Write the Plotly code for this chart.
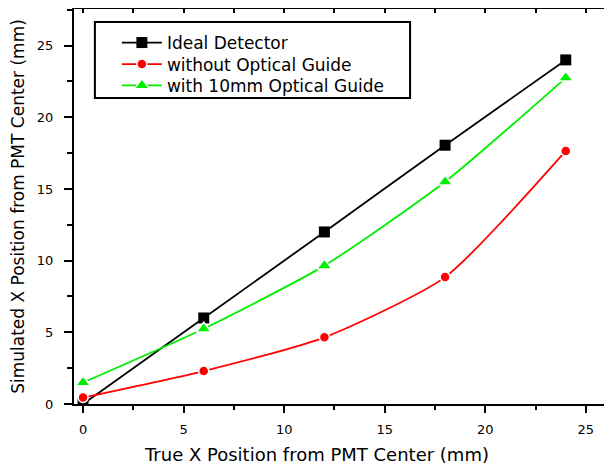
import plotly.graph_objects as go

x_vals = [0, 6, 12, 18, 24]
ideal = [0.0, 6.0, 12.0, 18.05, 24.0]
without_guide = [0.45, 2.3, 4.65, 8.85, 17.65]
with_guide = [1.5, 5.25, 9.65, 15.5, 22.75]

names = ["Ideal Detector", "without Optical Guide", "with 10mm Optical Guide"]
colors = ["#000000", "#ff0000", "#00ee00"]
symbols = ["square", "circle", "triangle-up"]
msizes = [11, 10, 13]
series = [ideal, without_guide, with_guide]
legend_ids = ["legend", "legend2", "legend3"]

FONT = "DejaVu Sans"

fig = go.Figure()
for name, ys, c, s, ms, lg in zip(names, series, colors, symbols, msizes, legend_ids):
    fig.add_trace(go.Scatter(
        x=x_vals, y=ys, name=name, mode="lines+markers", legend=lg,
        line=dict(color=c, width=1.8, shape="spline", smoothing=0.6),
        marker=dict(color=c, symbol=s, size=ms,
                    line=dict(color="white", width=0 if c == "#000000" else 1.5)),
    ))

# dummy trace for mirrored top/right axes
fig.add_trace(go.Scatter(x=[], y=[], xaxis="x2", yaxis="y2", showlegend=False, hoverinfo="skip"))

xr = [-0.45, 26.2]
yr = [0, 27.55]


def leg(y):
    return dict(
        x=0.080, y=y, xanchor="left", yanchor="top",
        bgcolor="rgba(0,0,0,0)", borderwidth=0,
        font=dict(size=17, family=FONT), itemwidth=40,
    )


fig.update_layout(
    width=604, height=464,
    margin=dict(l=66, r=2, t=1, b=68),
    paper_bgcolor="white", plot_bgcolor="white",
    font=dict(family=FONT, color="black"),
    showlegend=True,
    legend=leg(0.9595),
    legend2=leg(0.905),
    legend3=leg(0.851),
    shapes=[dict(type="rect", xref="paper", yref="paper",
                 x0=0.039, x1=0.627, y0=0.775, y1=0.967,
                 line=dict(color="black", width=2), fillcolor="white", layer="below")],
    annotations=[dict(text="True X Position from PMT Center (mm)", xref="paper", yref="paper",
                      x=0.452, y=-0.128, xanchor="center", yanchor="middle", showarrow=False,
                      font=dict(size=18, family=FONT))],
    xaxis=dict(
        range=xr, tickmode="array", tickvals=[0, 5, 10, 15, 20, 25],
        ticks="outside", ticklen=7, tickwidth=1.5, tickcolor="black",
        minor=dict(dtick=2.5, tick0=0, ticks="outside", ticklen=4, tickwidth=1.5, tickcolor="black"),
        showline=True, linewidth=2, linecolor="black", showgrid=False, zeroline=False,
        tickfont=dict(size=13, family=FONT), ticklabelstandoff=5,
    ),
    yaxis=dict(
        range=yr, tickmode="array", tickvals=[0, 5, 10, 15, 20, 25],
        ticks="outside", ticklen=8, tickwidth=1.5, tickcolor="black",
        minor=dict(dtick=2.5, tick0=0, ticks="outside", ticklen=5, tickwidth=1.5, tickcolor="black"),
        showline=True, linewidth=2, linecolor="black", showgrid=False, zeroline=False,
        tickfont=dict(size=13, family=FONT), ticklabelstandoff=8,
        title=dict(text="Simulated X Position from PMT Center (mm)", font=dict(size=17, family=FONT), standoff=11),
    ),
    xaxis2=dict(
        range=xr, overlaying="x", side="top", anchor="y2",
        tickmode="linear", tick0=0, dtick=2.5, ticks="inside", ticklen=4, tickwidth=1.5, tickcolor="black",
        showticklabels=False, showline=True, linewidth=2, linecolor="black",
        showgrid=False, zeroline=False,
    ),
    yaxis2=dict(
        range=yr, overlaying="y", side="right", anchor="x2",
        tickmode="linear", tick0=0, dtick=2.5, ticks="inside", ticklen=4, tickwidth=1.5, tickcolor="black",
        showticklabels=False, showline=True, linewidth=2, linecolor="black",
        showgrid=False, zeroline=False,
    ),
)

fig.write_html("out.html")
